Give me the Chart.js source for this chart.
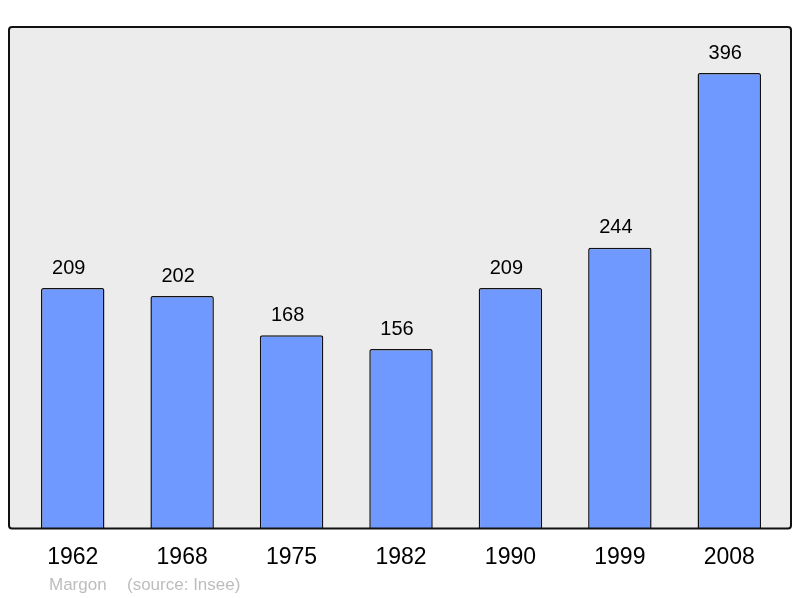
<!DOCTYPE html>
<html>
<head>
<meta charset="utf-8">
<script src="https://cdn.jsdelivr.net/npm/chart.js@4/dist/chart.umd.min.js"></script>
<style>
  html, body { margin: 0; padding: 0; background: #ffffff; }
  #wrap { width: 800px; height: 598px; }
</style>
</head>
<body>
<div id="wrap"><canvas id="popChart" width="800" height="598"></canvas></div>
<script>
// Population of Margon by census year
const years = ['1962', '1968', '1975', '1982', '1990', '1999', '2008'];
const population = [209, 202, 168, 156, 209, 244, 396];
const footerName = 'Margon';
const footerSource = '(source: Insee)';

const FONT = '"Liberation Sans", Arial, sans-serif';

// grey panel behind the bars, drawn a little wider than the chart area
const panelPlugin = {
  id: 'panel',
  box(chart) {
    const a = chart.chartArea;
    return { x: a.left - 9, y: a.top, w: (a.right + 7) - (a.left - 9), h: a.bottom - a.top };
  },
  beforeDatasetsDraw(chart) {
    const ctx = chart.ctx;
    const b = this.box(chart);
    ctx.save();
    ctx.fillStyle = '#ececec';
    ctx.beginPath();
    ctx.roundRect(b.x, b.y, b.w, b.h, 3);
    ctx.fill();
    ctx.restore();
  },
  afterDatasetsDraw(chart) {
    const ctx = chart.ctx;
    const b = this.box(chart);
    ctx.save();
    ctx.strokeStyle = '#111111';
    ctx.lineWidth = 2;
    ctx.beginPath();
    ctx.roundRect(b.x, b.y, b.w, b.h, 3);
    ctx.stroke();

    // value labels above each bar (sit a little left of centre, as in the original)
    const meta = chart.getDatasetMeta(0);
    ctx.fillStyle = '#000000';
    ctx.font = '20px ' + FONT;
    ctx.textAlign = 'center';
    ctx.textBaseline = 'bottom';
    meta.data.forEach((bar, i) => {
      ctx.fillText(String(population[i]), bar.x - 4, bar.y - 10);
    });

    // footer
    ctx.fillStyle = '#bdbdbd';
    ctx.font = '17px ' + FONT;
    ctx.textAlign = 'left';
    ctx.textBaseline = 'middle';
    ctx.fillText(footerName, 49, 585);
    ctx.fillText(footerSource, 127, 585);
    ctx.restore();
  }
};

const ctx = document.getElementById('popChart').getContext('2d');
const popChart = new Chart(ctx, {
  type: 'bar',
  data: {
    labels: years,
    datasets: [{
      data: population,
      backgroundColor: '#7099ff',
      borderColor: '#111111',
      borderWidth: 1.5,
      borderRadius: 2,
      borderSkipped: 'bottom',
      barPercentage: 0.58,
      categoryPercentage: 1
    }]
  },
  options: {
    responsive: false,
    animation: false,
    layout: {
      padding: { top: 27, left: 18, right: 16, bottom: 20 }
    },
    plugins: {
      legend: { display: false },
      tooltip: { enabled: false }
    },
    scales: {
      x: {
        grid: { display: false },
        border: { display: false },
        ticks: {
          color: '#000000',
          font: { family: FONT, size: 23 },
          padding: 7,
          maxRotation: 0
        }
      },
      y: {
        display: false,
        min: 0,
        max: 436
      }
    }
  },
  plugins: [panelPlugin]
});
</script>
</body>
</html>
